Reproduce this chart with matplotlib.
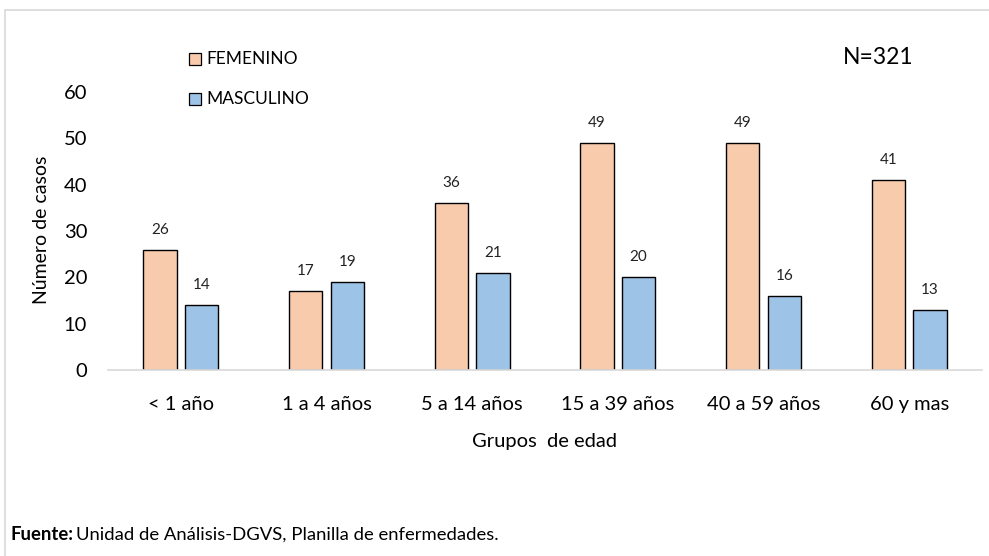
import matplotlib
matplotlib.use('Agg')
import numpy as np
from matplotlib import pyplot as plt
from matplotlib.patches import Rectangle

grupos = ['< 1 año', '1 a 4 años', '5 a 14 años', '15 a 39 años', '40 a 59 años', '60 y mas']
femenino = [26, 17, 36, 49, 49, 41]
masculino = [14, 19, 21, 20, 16, 13]

plt.rcParams['font.family'] = ['Lato', 'DejaVu Sans']

fig = plt.figure(figsize=(9.89, 5.56), dpi=100)
# marco gris (solo se ven el borde izquierdo y superior)
fig.patches.append(Rectangle((5 / 989, -0.1), 1.2, (556 - 10) / 556 + 0.1,
                             transform=fig.transFigure, fill=False,
                             edgecolor='#D9D9D9', linewidth=1.2))

ax = fig.add_axes([108 / 989, 1 - 370 / 556, (982 - 108) / 989, (370 - 92) / 556])
x = np.arange(len(grupos))
w = 0.228
off = 0.143
b1 = ax.bar(x - off, femenino, w, color='#F8CBAD', edgecolor='black', linewidth=1, label='FEMENINO')
b2 = ax.bar(x + off, masculino, w, color='#9DC3E6', edgecolor='black', linewidth=1, label='MASCULINO')

for bars, vals in ((b1, femenino), (b2, masculino)):
    for r, v in zip(bars, vals):
        ax.annotate(str(v), (r.get_x() + r.get_width() / 2, v), xytext=(0, 14.4),
                    textcoords='offset points', ha='center', va='center',
                    fontsize=11, color='#222222')

ax.set_xlim(-0.5, len(grupos) - 0.5)
ax.set_ylim(0, 60)
ax.set_yticks(range(0, 61, 10))
ax.set_xticks(x)
ax.set_xticklabels(grupos)
ax.tick_params(axis='both', length=0, labelsize=14.5)
ax.tick_params(axis='x', pad=19)
ax.tick_params(axis='y', pad=15)
for s in ('top', 'right', 'left'):
    ax.spines[s].set_visible(False)
ax.spines['bottom'].set_color('#D9D9D9')
ax.spines['bottom'].set_linewidth(1.2)

fig.text(545 / 989, 1 - 441 / 556, 'Grupos  de edad', ha='center', va='center', fontsize=14.5)
fig.text(42 / 989, 1 - 230 / 556, 'Número de casos', ha='center', va='center',
         rotation=90, fontsize=14)

# leyenda
for yy, col, lab in ((59, '#F8CBAD', 'FEMENINO'), (99, '#9DC3E6', 'MASCULINO')):
    fig.patches.append(Rectangle((189 / 989, 1 - (yy + 6) / 556), 12 / 989, 12 / 556,
                                 transform=fig.transFigure, facecolor=col,
                                 edgecolor='black', linewidth=0.9))
    fig.text(206 / 989, 1 - yy / 556, lab, ha='left', va='center', fontsize=12.5)

fig.text(878 / 989, 1 - 58 / 556, 'N=321', ha='center', va='center', fontsize=16.5)

# fuente
f1 = fig.text(10 / 989, 1 - 535 / 556, 'Fuente:', ha='left', va='center',
              fontsize=13.3, fontweight='bold')
fig.canvas.draw()
bb = f1.get_window_extent()
fig.text((bb.x1 + 3) / 989, 1 - 535 / 556, 'Unidad de Análisis-DGVS, Planilla de enfermedades.',
         ha='left', va='center', fontsize=13.3)

plt.savefig('out.png', dpi=100)
